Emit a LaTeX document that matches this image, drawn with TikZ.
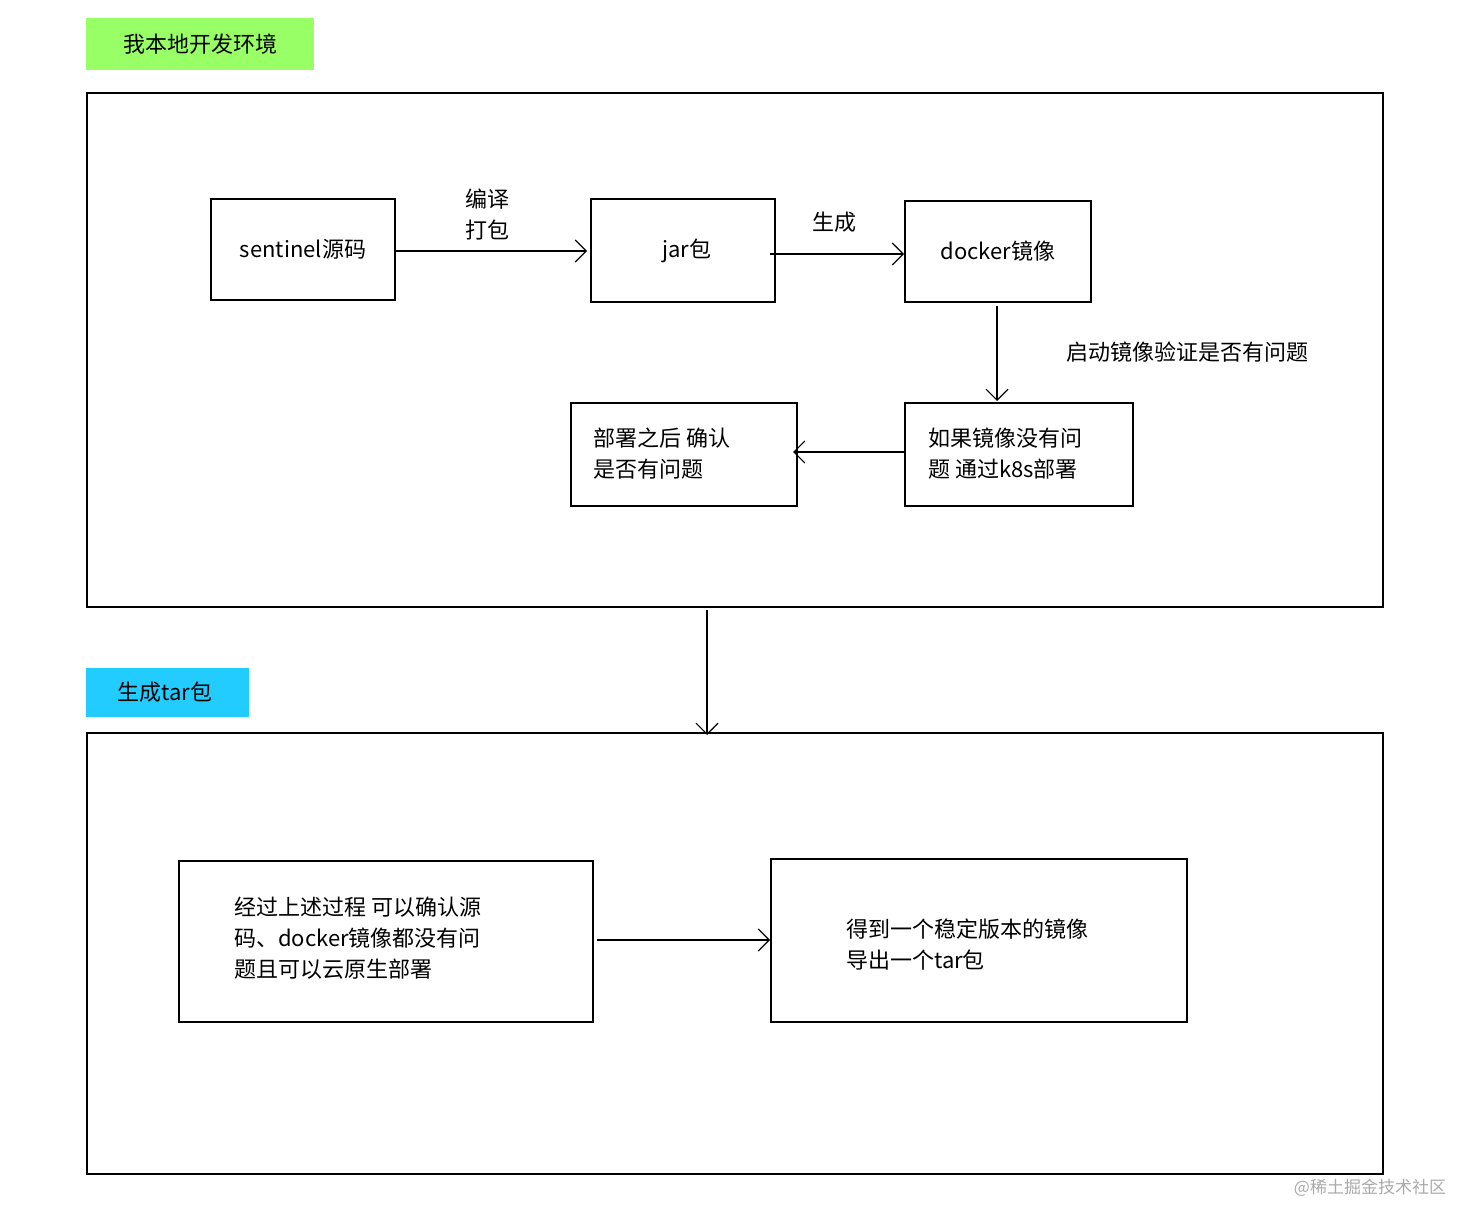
\documentclass[tikz,border=0pt]{standalone}
\usepackage{fontspec}
\setmainfont{Noto Sans CJK SC}
\usetikzlibrary{arrows.meta}
\begin{document}
\begin{tikzpicture}[x=1pt,y=-1pt,
 box/.style={draw,line width=1.3pt},
 arr/.style={line width=1.1pt,-{Straight Barb[length=11pt,width=22pt,line width=1.1pt]}},
 txt/.style={font=\fontsize{22}{31}\selectfont,inner sep=0pt}]
\useasboundingbox (0,0) rectangle (1482,1230);
\fill[fill={rgb,255:red,153;green,255;blue,102}] (86,18) rectangle (314,70);
\node[txt] (l1) at (200,44) {我本地开发环境};
\fill[fill={rgb,255:red,34;green,204;blue,255}] (86,668) rectangle (249,717);
\node[txt] (l2) at (165,692) {生成tar包};
\draw[box] (87,93) rectangle (1383,607);
\coordinate (b1s) at (707,610);
\draw[box] (87,733) rectangle (1383,1174);
\coordinate (b2n) at (707,735);
\draw[box] (211,199) rectangle (395,300); \node[txt] (a) at (303,249) {sentinel源码};
\coordinate (ae) at (395,251);
\draw[box] (591,199) rectangle (775,302); \node[txt] (b) at (687,251) {jar包};
\coordinate (bw) at (587,251); \coordinate (be) at (770,254);
\draw[box] (905,201) rectangle (1091,302); \node[txt] (c) at (998,251) {docker镜像};
\coordinate (cw) at (904,254); \coordinate (cs) at (997,306);
\draw[box] (905,403) rectangle (1133,506);
\node[txt,align=left,anchor=west] (d) at (928,454) {如果镜像没有问\\题 通过k8s部署};
\coordinate (dn) at (997,401); \coordinate (dw) at (905,452);
\draw[box] (571,403) rectangle (797,506);
\node[txt,align=left,anchor=west] (e) at (593,454) {部署之后 确认\\是否有问题};
\coordinate (ee) at (793,452);
\draw[arr] (ae) -- (bw);
\node[txt,align=left] (la) at (487,215) {编译\\打包};
\draw[arr] (be) -- (cw);
\node[txt] (lb) at (834,222) {生成};
\draw[arr] (cs) -- (dn);
\node[txt] (lc) at (1187,352) {启动镜像验证是否有问题};
\draw[arr] (dw) -- (ee);
\draw[arr] (b1s) -- (b2n);
\draw[box] (179,861) rectangle (593,1022);
\node[txt,align=left,anchor=west] (f) at (234,938) {经过上述过程 可以确认源\\码、docker镜像都没有问\\题且可以云原生部署};
\coordinate (fe) at (597,940);
\draw[box] (771,859) rectangle (1187,1022);
\node[txt,align=left,anchor=west] (g) at (846,945) {得到一个稳定版本的镜像\\导出一个tar包};
\coordinate (gw) at (770,940);
\draw[arr] (fe) -- (gw);
\node[txt,font=\fontsize{17}{20}\selectfont,text={rgb,255:red,170;green,170;blue,170}] (w) at (1370,1188) {@稀土掘金技术社区};
\end{tikzpicture}
\end{document}
